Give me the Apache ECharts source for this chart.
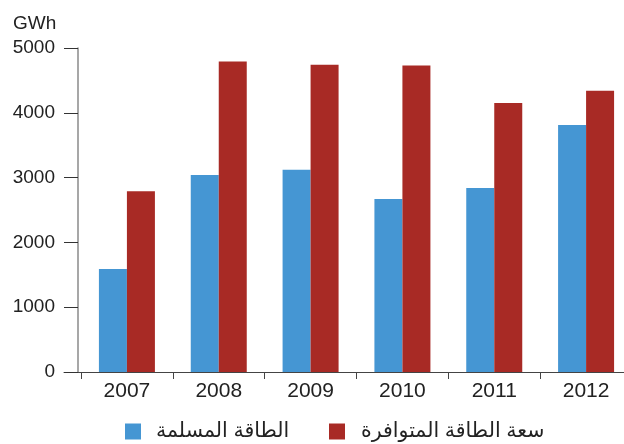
<!DOCTYPE html>
<html>
<head>
<meta charset="utf-8">
<script src="https://cdn.jsdelivr.net/npm/echarts@6/dist/echarts.min.js"></script>
<style>html,body{margin:0;padding:0;background:#fff;overflow:hidden;width:624px;height:444px}#c{width:640px;height:444px}</style>
</head>
<body>
<div id="c"></div>
<script>
const categories = ['2007', '2008', '2009', '2010', '2011', '2012'];
const delivered = [1590, 3040, 3120, 2670, 2840, 3810];
const available = [2790, 4790, 4740, 4730, 4150, 4340];
const seriesNames = ['الطاقة المسلمة', 'سعة الطاقة المتوافرة'];
const unitLabel = 'GWh';

const FONT = '"Liberation Sans", Arial, "DejaVu Sans", sans-serif';
const BLUE = '#4596d3';
const RED = '#a82a25';

const chart = echarts.init(document.getElementById('c'), null, {renderer: 'canvas'});
chart.setOption({
  animation: false,
  backgroundColor: '#fff',
  title: {
    text: unitLabel, left: 8, top: 9,
    textStyle: {fontFamily: FONT, fontSize: 19, fontWeight: 'normal', color: '#222'}
  },
  legend: [
    {
      data: [seriesNames[0]], left: 125, top: 421, itemWidth: 16, itemHeight: 16,
      icon: 'rect', padding: 0,
      textStyle: {fontFamily: FONT, fontSize: 20.5, color: '#222', padding: [0, 0, 0, 10]}
    },
    {
      data: [seriesNames[1]], left: 329, top: 421, itemWidth: 16, itemHeight: 16,
      icon: 'rect', padding: 0,
      textStyle: {fontFamily: FONT, fontSize: 20.5, color: '#222', padding: [0, 0, 0, 11]}
    }
  ],
  grid: [
    {left: 81, right: 8, top: 48, bottom: 72, containLabel: false},
    {left: 64, right: 16, top: 48, bottom: 72, containLabel: false}
  ],
  xAxis: [
    {
      type: 'category', data: categories, gridIndex: 0,
      axisLine: {show: true, lineStyle: {color: '#444', width: 1}},
      axisTick: {show: true, length: 7, lineStyle: {color: '#444'}},
      axisLabel: {fontFamily: FONT, fontSize: 21, color: '#222', margin: 9}
    },
    {
      type: 'value', gridIndex: 1, min: 0, max: 1,
      axisLine: {show: true, lineStyle: {color: '#444', width: 1}},
      axisTick: {show: false}, axisLabel: {show: false}, splitLine: {show: false}
    }
  ],
  yAxis: [
    {
      type: 'value', gridIndex: 0, min: 0, max: 5000, interval: 1000, offset: 3,
      axisLine: {show: true, lineStyle: {color: '#8a8a8a', width: 1.5}},
      axisTick: {show: true, length: 14, lineStyle: {color: '#333'}},
      axisLabel: {fontFamily: FONT, fontSize: 19, color: '#222', margin: 23,
        formatter: function (v) { return String(v); }},
      splitLine: {show: false}
    },
    {
      type: 'value', gridIndex: 1, min: 0, max: 1, show: false
    }
  ],
  series: [
    {
      name: seriesNames[0], type: 'bar', data: delivered, barWidth: 28, barGap: '0%',
      itemStyle: {color: BLUE}, xAxisIndex: 0, yAxisIndex: 0
    },
    {
      name: seriesNames[1], type: 'bar', data: available, barWidth: 28, barGap: '0%',
      itemStyle: {color: RED}, xAxisIndex: 0, yAxisIndex: 0
    }
  ]
});
</script>
</body>
</html>
